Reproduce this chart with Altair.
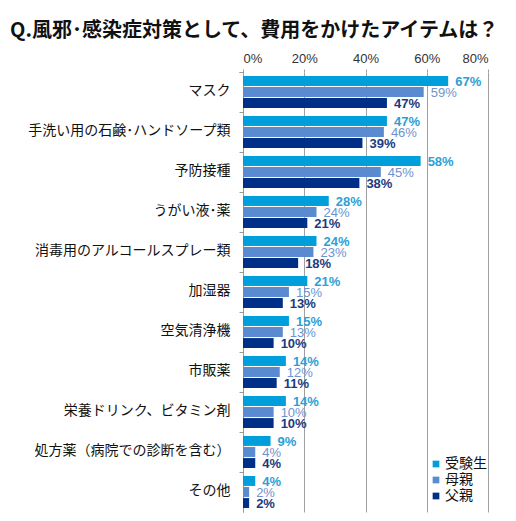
import altair as alt
import pandas as pd

categories = [
    "マスク",
    "手洗い用の石鹸･ハンドソープ類",
    "予防接種",
    "うがい液･薬",
    "消毒用のアルコールスプレー類",
    "加湿器",
    "空気清浄機",
    "市販薬",
    "栄養ドリンク、ビタミン剤",
    "処方薬（病院での診断を含む）",
    "その他",
]
series = ["受験生", "母親", "父親"]
juken = [67, 47, 58, 28, 24, 21, 15, 14, 14, 9, 4]
haha = [59, 46, 45, 24, 23, 15, 13, 12, 10, 4, 2]
chichi = [47, 39, 38, 21, 18, 13, 10, 11, 10, 4, 2]
x_ticks = [0, 20, 40, 60, 80]

bar_colors = ["#009fdb", "#5a8bd0", "#002f87"]
label_colors = ["#2c9fd4", "#6b93d0", "#1b3a7e"]
label_weights = ["bold", "normal", "bold"]

rows = []
for vals, s in zip([juken, haha, chichi], series):
    for c, v in zip(categories, vals):
        rows.append({"item": c, "series": s, "value": v})
df = pd.DataFrame(rows)

JP = "Noto Sans CJK JP"
NUM = "Liberation Sans"

y_enc = alt.Y(
    "item:N",
    sort=categories,
    scale=alt.Scale(paddingInner=0.2, paddingOuter=0.1),
    axis=alt.Axis(
        title=None,
        labelFont=JP,
        labelFontSize=14,
        labelColor="#111111",
        labelLimit=320,
        labelPadding=9,
        labelOffset=2,
        domainColor="#999999",
        tickColor="#999999",
        tickSize=4,
        bandPosition=0,
        tickOffset=-4,
        tickExtra=True,
        grid=False,
    ),
)
yoff = alt.YOffset("series:N", sort=series, scale=alt.Scale(paddingInner=0.1))
x_enc = alt.X(
    "value:Q",
    scale=alt.Scale(domain=[0, 80], nice=False),
    axis=alt.Axis(
        orient="top",
        title=None,
        values=x_ticks,
        labelExpr="datum.value + '%'",
        labelFont=NUM,
        labelFontSize=13,
        labelColor="#333333",
        labelPadding=4,
        domain=False,
        grid=True,
        gridColor="#a0a0a0",
        tickColor="#a0a0a0",
        tickSize=3,
    ),
)

bars = alt.Chart(df).mark_bar().encode(
    y=y_enc,
    yOffset=yoff,
    x=x_enc,
    color=alt.Color(
        "series:N",
        sort=series,
        scale=alt.Scale(domain=series, range=bar_colors),
        legend=alt.Legend(
            title=None,
            orient="none",
            legendX=186,
            legendY=385,
            symbolType="square",
            symbolSize=45,
            symbolStrokeWidth=0,
            labelFont=JP,
            labelFontSize=14,
            labelColor="#111111",
            labelOffset=2,
            rowPadding=2,
            padding=0,
        ),
    ),
)

layers = [bars]
for s, col, w in zip(series, label_colors, label_weights):
    layers.append(
        alt.Chart(df)
        .transform_filter(alt.datum.series == s)
        .transform_calculate(label="datum.value + '%'")
        .mark_text(align="left", baseline="middle", dx=7, dy=1, font=NUM,
                   fontSize=13, fontWeight=w, color=col)
        .encode(
            y=alt.Y("item:N", sort=categories),
            yOffset=alt.YOffset("series:N", sort=series),
            x=alt.X("value:Q"),
            text=alt.Text("label:N"),
        )
    )

chart = (
    alt.layer(*layers)
    .properties(
        width=245,
        height=440,
        autosize=alt.AutoSizeParams(type="none"),
        padding={"left": 235, "top": 64, "right": 20, "bottom": 5},
        title=alt.TitleParams(
            "Q.風邪･感染症対策として、費用をかけたアイテムは？",
            anchor="start",
            frame="group",
            dx=-233,
            offset=11,
            font=JP,
            fontSize=20,
            fontWeight="bold",
            color="#111111",
        ),
    )
    .configure_view(stroke=None)
)

chart.save("out.html", embed_options={"renderer": "svg", "actions": False})
